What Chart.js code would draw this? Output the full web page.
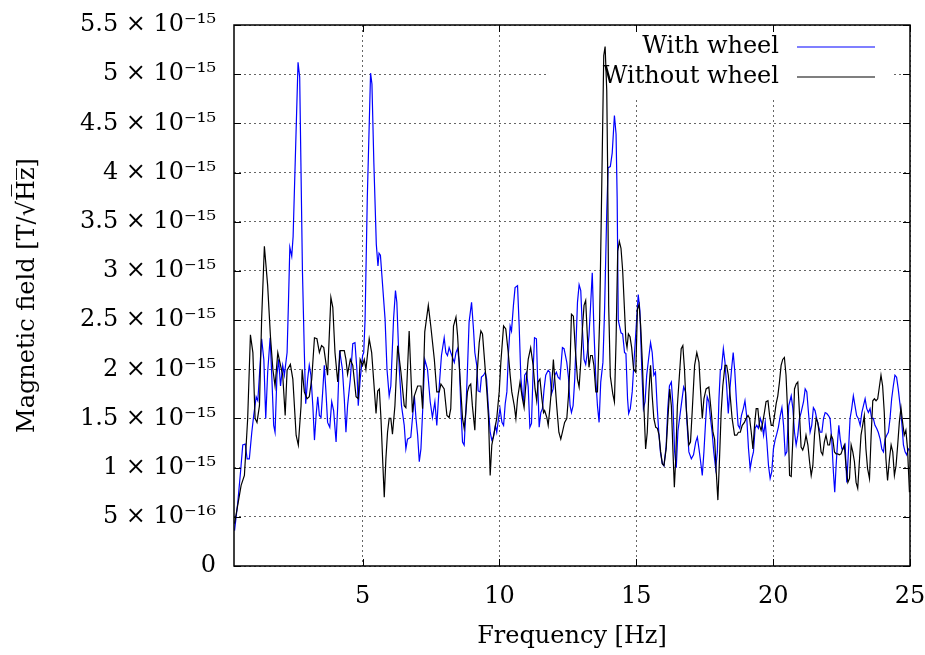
<!DOCTYPE html>
<html>
<head>
<meta charset="utf-8">
<title>Magnetic field spectrum</title>
<script src="https://cdn.jsdelivr.net/npm/chart.js@4/dist/chart.umd.min.js"></script>
<style>
    html, body { margin: 0; padding: 0; background: #fff; }
</style>
</head>
<body>
<canvas id="spectrumChart" width="925" height="655"></canvas>
<script>
// 値は 1e-15 T/√Hz 単位
const freqWith = [
    0.32, 0.44, 0.54, 0.62, 0.71, 0.78, 0.86, 0.95, 1.02, 1.11, 1.17, 1.23, 1.31, 1.39, 1.46, 1.53, 1.62, 1.68, 1.75, 1.80,
    1.87, 1.93, 2.00, 2.08, 2.14, 2.24, 2.29, 2.34, 2.41, 2.46, 2.64, 2.70, 2.80, 2.87, 2.92, 2.99, 3.05, 3.11, 3.18, 3.24,
    3.30, 3.36, 3.42, 3.48, 3.54, 3.60, 3.66, 3.72, 3.80, 3.87, 3.94, 4.03, 4.09, 4.16, 4.26, 4.33, 4.39, 4.45, 4.55, 4.64,
    4.72, 4.79, 4.84, 4.91, 5.00, 5.04, 5.09, 5.17, 5.29, 5.34, 5.41, 5.50, 5.56, 5.60, 5.65, 5.82, 5.89, 5.97, 6.03, 6.13,
    6.20, 6.25, 6.34, 6.42, 6.52, 6.58, 6.64, 6.76, 6.82, 6.89, 6.95, 7.01, 7.07, 7.13, 7.19, 7.27, 7.37, 7.47, 7.55, 7.64,
    7.71, 7.80, 7.88, 7.98, 8.04, 8.10, 8.16, 8.22, 8.35, 8.41, 8.47, 8.53, 8.59, 8.65, 8.71, 8.77, 8.83, 8.89, 8.98, 9.05,
    9.10, 9.17, 9.22, 9.29, 9.34, 9.42, 9.48, 9.53, 9.59, 9.66, 9.72, 9.78, 9.85, 9.90, 9.98, 10.02, 10.09, 10.15, 10.21, 10.27,
    10.33, 10.39, 10.44, 10.51, 10.57, 10.66, 10.72, 10.78, 10.84, 10.88, 10.92, 10.99, 11.05, 11.11, 11.17, 11.23, 11.28, 11.35, 11.39, 11.45,
    11.51, 11.57, 11.63, 11.69, 11.78, 11.84, 11.90, 11.96, 12.02, 12.08, 12.14, 12.21, 12.30, 12.36, 12.46, 12.52, 12.58, 12.63, 12.69, 12.75,
    12.85, 12.91, 12.97, 13.03, 13.09, 13.15, 13.21, 13.27, 13.33, 13.39, 13.45, 13.52, 13.58, 13.64, 13.70, 13.78, 13.84, 13.92, 13.97, 14.05,
    14.12, 14.20, 14.26, 14.30, 14.34, 14.44, 14.50, 14.57, 14.62, 14.68, 14.72, 14.78, 14.85, 14.92, 14.99, 15.07, 15.13, 15.20, 15.26, 15.32,
    15.38, 15.45, 15.52, 15.58, 15.64, 15.70, 15.76, 15.82, 15.88, 15.95, 16.01, 16.09, 16.15, 16.21, 16.28, 16.34, 16.40, 16.46, 16.52, 16.64,
    16.73, 16.80, 16.85, 16.92, 17.01, 17.09, 17.17, 17.23, 17.29, 17.35, 17.41, 17.47, 17.53, 17.59, 17.65, 17.71, 17.77, 17.83, 17.90, 17.96,
    18.02, 18.07, 18.11, 18.18, 18.24, 18.30, 18.36, 18.42, 18.48, 18.54, 18.60, 18.66, 18.72, 18.78, 18.84, 18.91, 18.97, 19.03, 19.10, 19.16,
    19.22, 19.28, 19.34, 19.40, 19.46, 19.53, 19.59, 19.65, 19.71, 19.77, 19.83, 19.89, 19.95, 20.01, 20.07, 20.13, 20.19, 20.26, 20.32, 20.38,
    20.44, 20.50, 20.57, 20.66, 20.72, 20.78, 20.84, 20.90, 20.96, 21.02, 21.11, 21.17, 21.23, 21.29, 21.35, 21.41, 21.47, 21.53, 21.59, 21.65,
    21.72, 21.78, 21.84, 21.90, 21.96, 22.02, 22.08, 22.14, 22.20, 22.25, 22.30, 22.36, 22.40, 22.45, 22.51, 22.57, 22.63, 22.69, 22.75, 22.81,
    22.87, 22.93, 22.99, 23.05, 23.11, 23.18, 23.24, 23.30, 23.36, 23.42, 23.48, 23.54, 23.60, 23.66, 23.72, 23.78, 23.84, 23.91, 23.97, 24.03,
    24.09, 24.15, 24.21, 24.27, 24.33, 24.39, 24.45, 24.51, 24.57, 24.64, 24.70, 24.76, 24.82, 24.88, 24.94, 24.98
];
const fieldWith = [
    0.36, 0.65, 0.96, 1.23, 1.24, 1.09, 1.09, 1.36, 1.53, 1.72, 1.68, 1.94, 2.31, 2.10, 1.50, 1.97, 2.32, 1.94, 1.43, 1.36,
    1.94, 2.10, 1.83, 2.04, 1.94, 2.17, 2.68, 3.24, 3.15, 3.35, 5.12, 4.97, 3.01, 2.17, 1.65, 1.90, 2.04, 1.94, 1.63, 1.28,
    1.53, 1.72, 1.53, 1.51, 1.77, 2.04, 1.77, 1.46, 1.41, 1.67, 1.58, 1.26, 1.63, 2.19, 2.00, 1.70, 1.36, 1.63, 1.90, 2.26,
    2.27, 2.00, 1.63, 1.90, 2.14, 2.17, 2.51, 3.74, 5.01, 4.90, 4.10, 3.27, 3.05, 3.18, 3.16, 2.51, 2.00, 1.73, 1.83, 2.51,
    2.80, 2.68, 2.00, 1.63, 1.43, 1.19, 1.29, 1.31, 1.50, 1.73, 1.50, 1.33, 1.06, 1.19, 1.56, 2.10, 2.00, 1.67, 1.51, 1.67,
    1.43, 1.83, 2.14, 2.32, 2.17, 2.14, 2.22, 2.17, 2.07, 2.17, 2.21, 2.07, 1.60, 1.26, 1.23, 1.56, 2.00, 2.48, 2.68, 2.41,
    2.17, 2.04, 1.78, 1.77, 1.92, 1.94, 1.97, 1.90, 1.63, 1.36, 1.28, 1.31, 1.43, 1.36, 1.53, 1.60, 1.46, 1.43, 1.65, 1.77,
    2.17, 2.44, 2.39, 2.65, 2.83, 2.85, 2.44, 1.92, 1.73, 1.68, 1.94, 1.97, 1.82, 1.41, 1.45, 1.99, 2.32, 2.31, 1.94, 1.41,
    1.56, 1.60, 1.80, 1.94, 1.99, 1.97, 1.75, 1.80, 1.94, 1.97, 1.92, 1.90, 2.22, 2.21, 2.07, 1.92, 1.63, 1.56, 1.63, 1.90,
    2.68, 2.86, 2.80, 2.41, 2.10, 2.05, 2.17, 2.34, 2.65, 2.98, 2.41, 1.90, 1.63, 1.46, 1.87, 2.07, 2.60, 3.60, 4.05, 4.06,
    4.20, 4.58, 4.39, 3.74, 2.50, 2.37, 2.36, 2.17, 2.16, 1.70, 1.55, 1.60, 1.77, 2.10, 2.41, 2.76, 2.60, 2.00, 1.60, 1.67,
    1.94, 2.11, 2.27, 2.17, 1.94, 1.97, 1.63, 1.36, 1.16, 1.04, 1.02, 1.22, 1.60, 1.83, 1.87, 1.63, 1.16, 1.00, 1.37, 1.63,
    1.82, 1.77, 1.46, 1.16, 1.09, 1.13, 1.26, 1.31, 1.19, 1.06, 0.92, 1.16, 1.46, 1.72, 1.67, 1.50, 1.36, 1.16, 0.99, 1.16,
    1.70, 1.99, 2.00, 2.21, 2.07, 1.83, 1.55, 1.80, 2.00, 2.17, 1.97, 1.67, 1.43, 1.40, 1.53, 1.60, 1.68, 1.53, 1.19, 0.99,
    1.09, 1.16, 1.40, 1.43, 1.40, 1.50, 1.45, 1.33, 1.46, 1.26, 1.02, 0.89, 0.96, 1.19, 1.28, 1.34, 1.41, 1.53, 1.61, 1.43,
    1.13, 1.16, 1.63, 1.73, 1.60, 1.36, 1.23, 1.33, 1.50, 1.56, 1.67, 1.80, 1.77, 1.56, 1.36, 1.43, 1.61, 1.58, 1.50, 1.43,
    1.36, 1.36, 1.50, 1.56, 1.55, 1.53, 1.50, 1.29, 0.96, 0.75, 1.02, 1.29, 1.43, 1.29, 1.19, 1.19, 1.23, 0.85, 1.16, 1.50,
    1.60, 1.73, 1.63, 1.53, 1.50, 1.43, 1.56, 1.63, 1.70, 1.60, 1.56, 1.60, 1.50, 1.50, 1.43, 1.40, 1.36, 1.29, 1.19, 1.16,
    1.29, 1.33, 1.36, 1.50, 1.70, 1.83, 1.94, 1.92, 1.80, 1.63, 1.46, 1.23, 1.16, 1.13, 1.19, 1.18
];

const freqWithout = [
    0.32, 0.56, 0.68, 0.80, 0.90, 0.99, 1.07, 1.14, 1.23, 1.31, 1.41, 1.53, 1.63, 1.72, 1.80, 1.90, 2.00, 2.08, 2.17, 2.24,
    2.36, 2.45, 2.57, 2.65, 2.75, 2.79, 2.87, 2.97, 3.05, 3.14, 3.24, 3.33, 3.42, 3.50, 3.58, 3.72, 3.84, 3.91, 3.99, 4.09,
    4.18, 4.33, 4.39, 4.45, 4.55, 4.64, 4.76, 4.84, 4.91, 5.00, 5.06, 5.12, 5.24, 5.33, 5.40, 5.49, 5.55, 5.61, 5.67, 5.73,
    5.79, 5.85, 5.91, 5.97, 6.03, 6.09, 6.18, 6.28, 6.40, 6.52, 6.58, 6.70, 6.82, 6.89, 7.01, 7.13, 7.19, 7.27, 7.40, 7.49,
    7.62, 7.71, 7.80, 7.86, 7.98, 8.08, 8.16, 8.22, 8.32, 8.41, 8.47, 8.53, 8.59, 8.65, 8.71, 8.77, 8.83, 8.89, 8.95, 9.01,
    9.10, 9.17, 9.26, 9.32, 9.38, 9.46, 9.54, 9.60, 9.66, 9.72, 9.81, 9.90, 9.99, 10.05, 10.15, 10.23, 10.32, 10.39, 10.45, 10.54,
    10.60, 10.66, 10.75, 10.84, 10.90, 10.96, 11.05, 11.14, 11.23, 11.30, 11.36, 11.41, 11.48, 11.55, 11.61, 11.65, 11.73, 11.78, 11.84, 11.90,
    11.97, 12.02, 12.09, 12.17, 12.24, 12.30, 12.38, 12.46, 12.52, 12.58, 12.63, 12.70, 12.77, 12.85, 12.91, 12.97, 13.03, 13.09, 13.15, 13.21,
    13.27, 13.33, 13.39, 13.45, 13.52, 13.58, 13.66, 13.71, 13.81, 13.86, 13.92, 13.95, 13.99, 14.05, 14.14, 14.20, 14.26, 14.32, 14.38, 14.44,
    14.50, 14.56, 14.62, 14.66, 14.71, 14.77, 14.83, 14.90, 14.98, 15.04, 15.10, 15.16, 15.22, 15.28, 15.34, 15.40, 15.46, 15.52, 15.58, 15.64,
    15.71, 15.77, 15.83, 15.89, 15.95, 16.01, 16.09, 16.16, 16.22, 16.28, 16.34, 16.39, 16.44, 16.50, 16.64, 16.70, 16.76, 16.82, 16.92, 16.98,
    17.04, 17.13, 17.21, 17.29, 17.35, 17.41, 17.47, 17.55, 17.65, 17.74, 17.80, 17.86, 17.92, 17.98, 18.04, 18.10, 18.16, 18.24, 18.30, 18.36,
    18.43, 18.50, 18.59, 18.67, 18.73, 18.80, 18.87, 18.95, 19.01, 19.08, 19.14, 19.20, 19.26, 19.32, 19.38, 19.44, 19.50, 19.56, 19.62, 19.68,
    19.74, 19.81, 19.87, 19.93, 19.99, 20.05, 20.11, 20.17, 20.23, 20.29, 20.35, 20.41, 20.47, 20.54, 20.60, 20.66, 20.72, 20.78, 20.84, 20.90,
    20.96, 21.02, 21.08, 21.14, 21.20, 21.27, 21.33, 21.39, 21.45, 21.51, 21.57, 21.63, 21.69, 21.75, 21.81, 21.87, 21.93, 22.00, 22.06, 22.12,
    22.18, 22.24, 22.30, 22.36, 22.42, 22.48, 22.54, 22.60, 22.66, 22.73, 22.79, 22.85, 22.91, 22.97, 23.03, 23.09, 23.15, 23.21, 23.27, 23.33,
    23.39, 23.45, 23.52, 23.58, 23.64, 23.70, 23.76, 23.82, 23.88, 23.94, 24.00, 24.06, 24.12, 24.18, 24.25, 24.31, 24.37, 24.43, 24.49, 24.55,
    24.61, 24.67, 24.73, 24.79, 24.85, 24.91, 24.98
];
const fieldWithout = [
    0.43, 0.82, 0.92, 1.50, 2.35, 2.17, 1.50, 1.46, 1.63, 2.51, 3.25, 2.85, 2.34, 2.00, 1.83, 2.17, 2.04, 1.94, 1.53, 1.99,
    2.05, 1.90, 1.33, 1.23, 1.63, 2.00, 1.77, 1.70, 1.72, 1.90, 2.32, 2.31, 2.17, 2.24, 2.22, 1.94, 2.73, 2.63, 2.17, 1.87,
    2.19, 2.19, 2.10, 1.95, 2.10, 2.04, 1.72, 1.70, 2.10, 2.04, 2.10, 2.00, 2.31, 2.17, 1.90, 1.55, 1.78, 1.80, 1.50, 1.09,
    0.70, 1.09, 1.36, 1.50, 1.50, 1.34, 1.63, 2.24, 1.97, 1.63, 1.61, 2.39, 1.56, 1.73, 1.83, 1.83, 1.60, 2.38, 2.65, 2.44,
    2.10, 1.77, 1.77, 1.85, 1.80, 1.53, 1.51, 1.60, 2.44, 2.53, 2.34, 2.04, 1.77, 1.50, 1.40, 1.56, 1.77, 1.83, 1.85, 1.63,
    1.38, 1.90, 2.27, 2.39, 2.36, 2.07, 1.77, 1.50, 0.92, 1.23, 1.36, 1.50, 1.77, 2.07, 2.44, 2.41, 2.17, 1.94, 1.77, 1.63,
    1.50, 1.70, 1.87, 1.70, 1.61, 1.83, 2.10, 2.22, 2.04, 1.80, 1.68, 1.87, 1.90, 1.70, 1.56, 1.58, 1.51, 1.43, 1.60, 1.80,
    2.10, 1.90, 1.63, 1.36, 1.29, 1.36, 1.46, 1.50, 1.73, 2.07, 2.56, 2.54, 2.21, 1.90, 1.82, 2.07, 2.41, 2.65, 2.70, 2.34,
    2.02, 2.14, 2.14, 2.04, 1.77, 1.77, 2.51, 3.38, 5.19, 5.28, 4.83, 4.10, 2.65, 1.93, 1.75, 1.67, 2.29, 3.20, 3.30, 3.23,
    3.01, 2.65, 2.29, 2.22, 2.36, 2.33, 2.22, 2.00, 1.97, 2.61, 2.66, 2.44, 2.07, 1.60, 1.19, 1.36, 1.77, 2.04, 1.73, 1.50,
    1.41, 1.40, 1.33, 1.16, 1.04, 1.02, 1.19, 1.53, 1.80, 1.63, 1.16, 0.80, 1.09, 1.63, 2.21, 2.24, 2.00, 1.63, 1.23, 1.26,
    1.56, 2.04, 2.17, 2.07, 1.77, 1.50, 1.70, 1.80, 1.82, 1.56, 1.36, 1.29, 0.96, 0.67, 1.09, 1.56, 1.83, 2.04, 2.04, 1.94,
    1.73, 1.50, 1.33, 1.33, 1.36, 1.36, 1.43, 1.46, 1.50, 1.53, 1.50, 1.36, 1.19, 1.43, 1.60, 1.60, 1.43, 1.38, 1.46, 1.56,
    1.67, 1.68, 1.53, 1.43, 1.43, 1.53, 1.65, 1.73, 1.87, 2.04, 2.10, 2.12, 1.94, 1.50, 0.92, 0.91, 1.29, 1.80, 1.85, 1.87,
    1.56, 1.21, 1.18, 1.23, 1.33, 1.23, 1.06, 0.92, 1.02, 1.33, 1.50, 1.46, 1.33, 1.16, 1.13, 1.26, 1.33, 1.23, 1.23, 1.33,
    1.29, 1.16, 1.14, 1.14, 1.13, 1.14, 1.19, 1.23, 1.02, 0.85, 0.89, 1.23, 1.16, 1.06, 0.85, 0.79, 1.06, 1.33, 1.43, 1.53,
    1.19, 0.99, 0.89, 1.33, 1.68, 1.70, 1.68, 1.70, 1.82, 1.94, 1.83, 1.56, 1.09, 0.87, 1.09, 1.23, 1.16, 0.92, 1.02, 1.23,
    1.46, 1.61, 1.46, 1.33, 1.38, 1.19, 0.75
];

const seriesLabels = ['With wheel', 'Without wheel'];
const xRange = [0.3, 25];
const xTicks = [5, 10, 15, 20, 25];
const yTicks = [0, 0.5, 1, 1.5, 2, 2.5, 3, 3.5, 4, 4.5, 5, 5.5];
const yTickLabels = [
    '0', '5 × 10⁻¹⁶', '1 × 10⁻¹⁵', '1.5 × 10⁻¹⁵', '2 × 10⁻¹⁵', '2.5 × 10⁻¹⁵',
    '3 × 10⁻¹⁵', '3.5 × 10⁻¹⁵', '4 × 10⁻¹⁵', '4.5 × 10⁻¹⁵', '5 × 10⁻¹⁵', '5.5 × 10⁻¹⁵'
];

const FONT = "'DejaVu Serif', 'Liberation Serif', serif";
const lineColors = ['#0000ff', '#000000'];

function toPoints(xs, ys) {
    return xs.map((x, i) => ({ x: x, y: ys[i] }));
}

// 凡例（gnuplot風：白抜きの枠の中、線はテキストの右）
const keyPlugin = {
    id: 'key',
    beforeDatasetsDraw(chart) {
        const { ctx, chartArea: a } = chart;
        const right = a.right - 17;
        ctx.save();
        ctx.fillStyle = '#fff';
        ctx.fillRect(right - 345, a.top + 1, 345, 71);
        ctx.font = '24px ' + FONT;
        ctx.textAlign = 'right';
        ctx.textBaseline = 'middle';
        seriesLabels.forEach((label, i) => {
            const y = a.top + 22 + i * 30;
            ctx.fillStyle = '#000';
            ctx.fillText(label, a.right - 131, y);
            ctx.strokeStyle = lineColors[i];
            ctx.lineWidth = 1.2;
            ctx.beginPath();
            ctx.moveTo(a.right - 113, y);
            ctx.lineTo(a.right - 35, y);
            ctx.stroke();
        });
        ctx.restore();
    }
};

// 枠と内向きの目盛り
const framePlugin = {
    id: 'frame',
    afterDatasetsDraw(chart) {
        const { ctx, chartArea: a, scales } = chart;
        const len = 7;
        ctx.save();
        ctx.strokeStyle = '#000';
        ctx.lineWidth = 1;
        ctx.beginPath();
        xTicks.forEach(v => {
            const px = Math.round(scales.x.getPixelForValue(v)) + 0.5;
            ctx.moveTo(px, a.bottom); ctx.lineTo(px, a.bottom - len);
            ctx.moveTo(px, a.top); ctx.lineTo(px, a.top + len);
        });
        yTicks.forEach(v => {
            const py = Math.round(scales.y.getPixelForValue(v)) + 0.5;
            ctx.moveTo(a.left, py); ctx.lineTo(a.left + len, py);
            ctx.moveTo(a.right, py); ctx.lineTo(a.right - len, py);
        });
        ctx.stroke();
        ctx.lineWidth = 1.5;
        ctx.strokeRect(a.left, a.top, a.right - a.left, a.bottom - a.top);
        ctx.restore();
    }
};

Chart.defaults.font.family = FONT;
Chart.defaults.font.size = 24;
Chart.defaults.color = '#000';

const canvasCtx = document.getElementById('spectrumChart').getContext('2d');
new Chart(canvasCtx, {
    type: 'line',
    data: {
        datasets: [
            {
                label: seriesLabels[0],
                data: toPoints(freqWith, fieldWith),
                borderColor: lineColors[0],
                borderWidth: 1.2,
                pointRadius: 0,
                tension: 0,
                order: 2
            },
            {
                label: seriesLabels[1],
                data: toPoints(freqWithout, fieldWithout),
                borderColor: lineColors[1],
                borderWidth: 1.2,
                pointRadius: 0,
                tension: 0,
                order: 1
            }
        ]
    },
    options: {
        responsive: false,
        animation: false,
        layout: { padding: { left: 0, right: 15, top: 25, bottom: 0 } },
        plugins: {
            legend: { display: false },
            tooltip: { enabled: false }
        },
        scales: {
            x: {
                type: 'linear',
                min: xRange[0],
                max: xRange[1],
                afterBuildTicks: scale => { scale.ticks = xTicks.map(v => ({ value: v })); },
                afterFit: scale => {
                    scale.height = 89;
                    scale.paddingLeft = 0;
                    scale.paddingRight = 0;
                },
                grid: { color: '#666', lineWidth: 1, drawTicks: false },
                border: { display: false, dash: [2, 3] },
                ticks: { padding: 16, maxRotation: 0, font: { size: 24 } },
                title: {
                    display: true,
                    text: 'Frequency [Hz]',
                    font: { size: 24 },
                    padding: { top: 0, bottom: 4 }
                }
            },
            y: {
                min: 0,
                max: 5.5,
                afterBuildTicks: scale => { scale.ticks = yTicks.map(v => ({ value: v })); },
                afterFit: scale => {
                    scale.width = 234;
                    scale.paddingTop = 0;
                    scale.paddingBottom = 0;
                },
                grid: { color: '#666', lineWidth: 1, drawTicks: false },
                border: { display: false, dash: [2, 3] },
                ticks: {
                    padding: 18,
                    font: { size: 24 },
                    callback: (value) => {
                        const i = yTicks.indexOf(value);
                        return i >= 0 ? yTickLabels[i] : '';
                    }
                },
                title: {
                    display: true,
                    text: 'Magnetic field [T/√H̅z̅]',
                    font: { size: 24 },
                    padding: { top: 13, bottom: 0 }
                }
            }
        }
    },
    plugins: [keyPlugin, framePlugin]
});
</script>
</body>
</html>
